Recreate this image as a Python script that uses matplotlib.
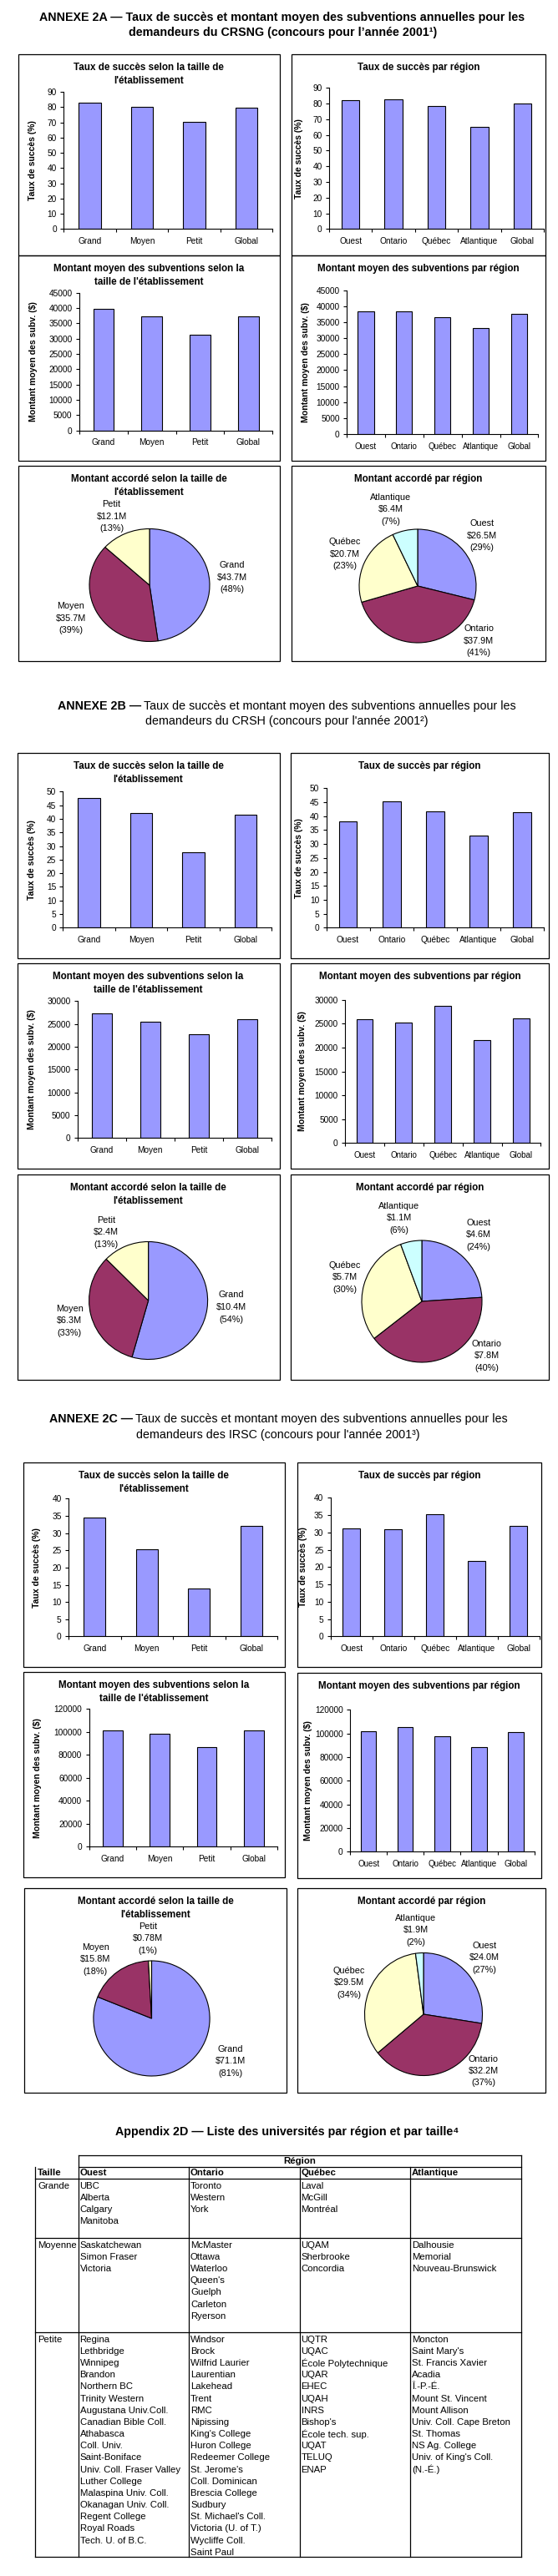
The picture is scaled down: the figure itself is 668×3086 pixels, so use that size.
import matplotlib
matplotlib.use('Agg')
import matplotlib.pyplot as plt
from matplotlib.patches import Rectangle

W, H = 668, 3086
plt.rcParams['font.family'] = ['Liberation Sans', 'DejaVu Sans']

# ---- data ----
tailles = ['Grand', 'Moyen', 'Petit', 'Global']
regions = ['Ouest', 'Ontario', 'Québec', 'Atlantique', 'Global']
pie_tailles = ['Grand', 'Moyen', 'Petit']
pie_regions = ['Ouest', 'Ontario', 'Québec', 'Atlantique']

crsng_taux_taille = [82.7, 79.9, 70.1, 79.4]
crsng_taux_region = [82.1, 82.6, 78.3, 65.0, 79.9]
crsng_montant_taille = [39600, 37400, 31200, 37400]
crsng_montant_region = [38300, 38300, 36500, 33100, 37500]
crsng_accorde_taille = [43.7, 35.7, 12.1]
crsng_pct_taille = [48, 39, 13]
crsng_accorde_region = [26.5, 37.9, 20.7, 6.4]
crsng_pct_region = [29, 41, 23, 7]

crsh_taux_taille = [47.5, 42.0, 27.6, 41.4]
crsh_taux_region = [38.0, 45.2, 41.6, 32.9, 41.3]
crsh_montant_taille = [27250, 25450, 22700, 26000]
crsh_montant_region = [25850, 25150, 28650, 21500, 26050]
crsh_accorde_taille = [10.4, 6.3, 2.4]
crsh_pct_taille = [54, 33, 13]
crsh_accorde_region = [4.6, 7.8, 5.7, 1.1]
crsh_pct_region = [24, 40, 30, 6]

irsc_taux_taille = [34.4, 25.4, 14.0, 32.0]
irsc_taux_region = [31.2, 30.9, 35.3, 21.7, 31.9]
irsc_montant_taille = [101600, 98200, 86500, 101100]
irsc_montant_region = [101600, 105200, 97400, 88200, 100900]
irsc_accorde_taille = [71.1, 15.8, 0.78]
irsc_pct_taille = [81, 18, 1]
irsc_accorde_region = [24.0, 32.2, 29.5, 1.9]
irsc_pct_region = [27, 37, 34, 2]

# table of universities
table_cols = ['Ouest', 'Ontario', 'Québec', 'Atlantique']
table_rows = ['Grande', 'Moyenne', 'Petite']
grande = [['UBC', 'Alberta', 'Calgary', 'Manitoba'],
          ['Toronto', 'Western', 'York'],
          ['Laval', 'McGill', 'Montréal'],
          []]
moyenne = [['Saskatchewan', 'Simon Fraser', 'Victoria'],
           ['McMaster', 'Ottawa', 'Waterloo', "Queen's", 'Guelph', 'Carleton', 'Ryerson'],
           ['UQAM', 'Sherbrooke', 'Concordia'],
           ['Dalhousie', 'Memorial', 'Nouveau-Brunswick']]
petite = [['Regina', 'Lethbridge', 'Winnipeg', 'Brandon', 'Northern BC', 'Trinity Western',
           'Augustana Univ.Coll.', 'Canadian Bible Coll.', 'Athabasca', 'Coll. Univ.',
           'Saint-Boniface', 'Univ. Coll. Fraser Valley', 'Luther College',
           'Malaspina Univ. Coll.', 'Okanagan Univ. Coll.', 'Regent College',
           'Royal Roads', 'Tech. U. of B.C.'],
          ['Windsor', 'Brock', 'Wilfrid Laurier', 'Laurentian', 'Lakehead', 'Trent', 'RMC',
           'Nipissing', "King's College", 'Huron College', 'Redeemer College',
           "St. Jerome's", 'Coll. Dominican', 'Brescia College', 'Sudbury',
           "St. Michael's Coll.", 'Victoria (U. of T.)', 'Wycliffe Coll.', 'Saint Paul'],
          ['UQTR', 'UQAC', 'École Polytechnique', 'UQAR', 'EHEC', 'UQAH', 'INRS',
           "Bishop's", 'École tech. sup.', 'UQAT', 'TELUQ', 'ENAP'],
          ['Moncton', "Saint Mary's", 'St. Francis Xavier', 'Acadia', 'Î.-P.-É.',
           'Mount St. Vincent', 'Mount Allison', 'Univ. Coll. Cape Breton', 'St. Thomas',
           'NS Ag. College', "Univ. of King's Coll.", '(N.-É.)']]

BAR = '#9999FF'
PIE_COLORS = ['#9999FF', '#993366', '#FFFFCC', '#CCFFFF']

fig = plt.figure(figsize=(W / 100, H / 100), dpi=100)
bg = fig.add_axes([0, 0, 1, 1])
bg.set_xlim(0, W)
bg.set_ylim(H, 0)
bg.axis('off')


def frac(x0, y0, x1, y1):
    return [x0 / W, 1 - y1 / H, (x1 - x0) / W, (y1 - y0) / H]


def box(b, title):
    x0, y0, x1, y1 = b
    bg.add_patch(Rectangle((x0, y0), x1 - x0, y1 - y0, fill=False, ec='black', lw=0.9))
    for k, line in enumerate(title.split('\n')):
        bg.text((x0 + x1) / 2, y0 + 16 + k * 16, line, ha='center', va='center',
                fontsize=8.4, fontweight='bold')


def bar_chart(b, axp, cats, vals, ymax, step, title, ylabel, ylab_dx, fs=7.3):
    box(b, title)
    ax = fig.add_axes(frac(*axp))
    ax.patch.set_visible(False)
    xs = list(range(len(cats)))
    ax.bar(xs, vals, width=0.42, color=BAR, edgecolor='black', linewidth=0.8)
    ax.set_xlim(-0.5, len(cats) - 0.5)
    ax.set_ylim(0, ymax)
    ax.set_yticks(list(range(0, ymax + 1, step)))
    ax.set_xticks([i - 0.5 for i in range(len(cats) + 1)])
    ax.set_xticklabels([])
    ax.set_xticks(xs, minor=True)
    ax.set_xticklabels(cats, minor=True, fontsize=fs)
    ax.tick_params(axis='x', which='major', direction='out', length=3, width=0.8)
    ax.tick_params(axis='x', which='minor', length=0, pad=7)
    ax.tick_params(axis='y', direction='out', length=3, width=0.8, labelsize=7.3, pad=3)
    for s in ['top', 'right']:
        ax.spines[s].set_visible(False)
    for s in ['left', 'bottom']:
        ax.spines[s].set_linewidth(0.8)
    bg.text(b[0] + ylab_dx, (axp[1] + axp[3]) / 2, ylabel, rotation=90, ha='center',
            va='center', fontsize=7.6, fontweight='bold')


def pie_chart(b, center, radii, names, amounts, pcts, label_pos, title):
    box(b, title)
    cx, cy = center
    rx, ry = radii
    ax = fig.add_axes(frac(cx - rx, cy - ry, cx + rx, cy + ry))
    ax.pie(amounts, colors=PIE_COLORS[:len(amounts)], startangle=90, counterclock=False,
           wedgeprops=dict(edgecolor='black', linewidth=0.8))
    ax.set_aspect('auto')
    ax.set_xlim(-1, 1)
    ax.set_ylim(-1, 1)
    for name, a, p, (lx, ly) in zip(names, amounts, pcts, label_pos):
        amt = f'{a:.2f}' if a < 1 else f'{a:.1f}'
        for k, t in enumerate([name, f'${amt}M', f'({p}%)']):
            bg.text(lx, ly + (k - 1) * 14.5, t, ha='center', va='center', fontsize=7.8)


def mixed_line(xc, y, bold, rest, size):
    t1 = bg.text(0, y, bold, fontweight='bold', fontsize=size, va='center', ha='left')
    t2 = bg.text(0, y, rest, fontsize=size, va='center', ha='left')
    r = fig.canvas.get_renderer()
    w1 = t1.get_window_extent(r).width
    w2 = t2.get_window_extent(r).width
    gap = 3
    xs = xc - (w1 + gap + w2) / 2
    t1.set_x(xs)
    t2.set_x(xs + w1 + gap)


T_TAUX_T = "Taux de succès selon la taille de\nl'établissement"
T_TAUX_R = 'Taux de succès par région'
T_MONT_T = "Montant moyen des subventions selon la\ntaille de l'établissement"
T_MONT_R = 'Montant moyen des subventions par région'
T_ACC_T = "Montant accordé selon la taille de\nl'établissement"
T_ACC_R = 'Montant accordé par région'
YL_TAUX = 'Taux de succès (%)'
YL_MONT = 'Montant moyen des subv. ($)'

# ---- ANNEXE 2A ----
bg.text(338, 21, 'ANNEXE 2A — Taux de succès et montant moyen des subventions annuelles pour les',
        ha='center', va='center', fontsize=10.3, fontweight='bold')
bg.text(339, 39, 'demandeurs du CRSNG (concours pour l’année 2001¹)',
        ha='center', va='center', fontsize=10.3, fontweight='bold')

bar_chart((21.5, 65, 335, 306), (76.3, 110, 326.3, 274.3), tailles, crsng_taux_taille,
          90, 10, T_TAUX_T, YL_TAUX, 17.3)
bar_chart((349, 65, 653, 306), (394, 105.3, 651, 274.3), regions, crsng_taux_region,
          90, 10, T_TAUX_R, YL_TAUX, 8.8)
bar_chart((21.5, 306, 335, 552), (94.8, 350.7, 326.3, 515.7), tailles, crsng_montant_taille,
          45000, 5000, T_MONT_T, YL_MONT, 18.2)
bar_chart((349, 306, 653, 552), (415, 347.7, 644.4, 520), regions, crsng_montant_region,
          45000, 5000, T_MONT_R, YL_MONT, 17.4, fs=7.0)
pie_chart((21.5, 558, 335, 792), (179, 701), (72, 67.5), pie_tailles, crsng_accorde_taille,
          crsng_pct_taille, [(278, 691.7), (85, 740.7), (133.6, 618.7)], T_ACC_T)
pie_chart((349, 558, 653, 792), (500, 702), (70, 68), pie_regions, crsng_accorde_region,
          crsng_pct_region, [(576.7, 641.7), (573.3, 767.7), (412.5, 663.7), (467.7, 610.3)],
          T_ACC_R)

# ---- ANNEXE 2B ----
mixed_line(343, 846, 'ANNEXE 2B —',
           'Taux de succès et montant moyen des subventions annuelles pour les', 10.3)
bg.text(343, 864, "demandeurs du CRSH (concours pour l'année 2001²)",
        ha='center', va='center', fontsize=10.3)

bar_chart((20.7, 902, 334.5, 1148), (75.4, 948.3, 325, 1111.3), tailles, crsh_taux_taille,
          50, 5, T_TAUX_T, YL_TAUX, 17.3)
bar_chart((348, 902, 657, 1148), (390.5, 944.3, 651, 1111.3), regions, crsh_taux_region,
          50, 5, T_TAUX_R, YL_TAUX, 9.8)
bar_chart((20.7, 1154, 334.5, 1400), (92.7, 1199.3, 325, 1363.3), tailles, crsh_montant_taille,
          30000, 5000, T_MONT_T, YL_MONT, 17.3)
bar_chart((348, 1154, 657, 1400), (413, 1197.7, 647.4, 1369.3), regions, crsh_montant_region,
          30000, 5000, T_MONT_R, YL_MONT, 14, fs=7.0)
pie_chart((20.7, 1407, 334.5, 1653), (177.6, 1558), (71, 70.5), pie_tailles,
          crsh_accorde_taille, crsh_pct_taille,
          [(276.7, 1566), (83.2, 1582.3), (127.2, 1476.3)], T_ACC_T)
pie_chart((348, 1407, 657, 1653), (505, 1559), (72, 73), pie_regions, crsh_accorde_region,
          crsh_pct_region, [(573.3, 1479.3), (582.8, 1624.3), (412.5, 1530.3), (477.6, 1459.3)],
          T_ACC_R)

# ---- ANNEXE 2C ----
mixed_line(333, 1700, 'ANNEXE 2C —',
           'Taux de succès et montant moyen des subventions annuelles pour les', 10.3)
bg.text(333, 1719, "demandeurs des IRSC (concours pour l'année 2001³)",
        ha='center', va='center', fontsize=10.3)

bar_chart((27.6, 1752, 341, 1997), (82, 1795.3, 332, 1960.5), tailles, irsc_taux_taille,
          40, 5, T_TAUX_T, YL_TAUX, 16.8)
bar_chart((355.6, 1752, 648, 1997), (395.7, 1794.3, 645.7, 1960.5), regions, irsc_taux_region,
          40, 5, T_TAUX_R, YL_TAUX, 7.8)
bar_chart((27.6, 2003, 341, 2249), (106.5, 2047.3, 332, 2212.3), tailles, irsc_montant_taille,
          120000, 20000, T_MONT_T, YL_MONT, 17.7)
bar_chart((355.6, 2004, 648, 2250), (419, 2048.3, 639.7, 2218.3), regions, irsc_montant_region,
          120000, 20000, T_MONT_R, YL_MONT, 12.9, fs=7.0)
pie_chart((29, 2262, 343, 2507), (181.5, 2418), (69.6, 69), pie_tailles, irsc_accorde_taille,
          irsc_pct_taille, [(275.9, 2469.3), (114.2, 2347.3), (176.7, 2322.3)], T_ACC_T)
pie_chart((356, 2262, 653, 2507), (507, 2413), (70.5, 73.5), pie_regions, irsc_accorde_region,
          irsc_pct_region, [(579.7, 2345.3), (578.9, 2481), (418.1, 2375.3), (497.8, 2312.3)],
          T_ACC_R)

# ---- Appendix 2D : table ----
bg.text(344, 2554, 'Appendix 2D — Liste des universités par région et par taille⁴',
        ha='center', va='center', fontsize=10.3, fontweight='bold')

col_x = [42, 93.5, 226, 358.6, 491, 624]
row_y = [2582, 2596, 2610, 2681, 2794, 3063]
lk = dict(color='black', lw=0.9)
bg.plot([col_x[1], col_x[-1]], [row_y[0], row_y[0]], **lk)
bg.plot([col_x[1], col_x[-1]], [row_y[1], row_y[1]], **lk)
for y in row_y[2:]:
    bg.plot([col_x[0], col_x[-1]], [y, y], **lk)
bg.plot([col_x[0], col_x[0]], [row_y[1], row_y[-1]], **lk)
bg.plot([col_x[1], col_x[1]], [row_y[0], row_y[-1]], **lk)
bg.plot([col_x[-1], col_x[-1]], [row_y[0], row_y[-1]], **lk)
for x in col_x[2:-1]:
    bg.plot([x, x], [row_y[1], row_y[-1]], **lk)

TFS = 8.2
bg.text((col_x[1] + col_x[-1]) / 2, 2589.3, 'Région', ha='center', va='center',
        fontsize=TFS, fontweight='bold')
bg.text(col_x[0] + 3, 2603.3, 'Taille', ha='left', va='center', fontsize=TFS, fontweight='bold')
for cx, name in zip(col_x[1:-1], table_cols):
    bg.text(cx + 2, 2603.3, name, ha='left', va='center', fontsize=TFS, fontweight='bold')

for top, label, cells in zip(row_y[2:5], table_rows, [grande, moyenne, petite]):
    bg.text(col_x[0] + 3, top + 8.7, label, ha='left', va='center', fontsize=TFS)
    for cx, names in zip(col_x[1:-1], cells):
        for i, n in enumerate(names):
            bg.text(cx + 2, top + 8.7 + i * 14.17, n, ha='left', va='center', fontsize=TFS)

fig.savefig('out.png', dpi=100)
